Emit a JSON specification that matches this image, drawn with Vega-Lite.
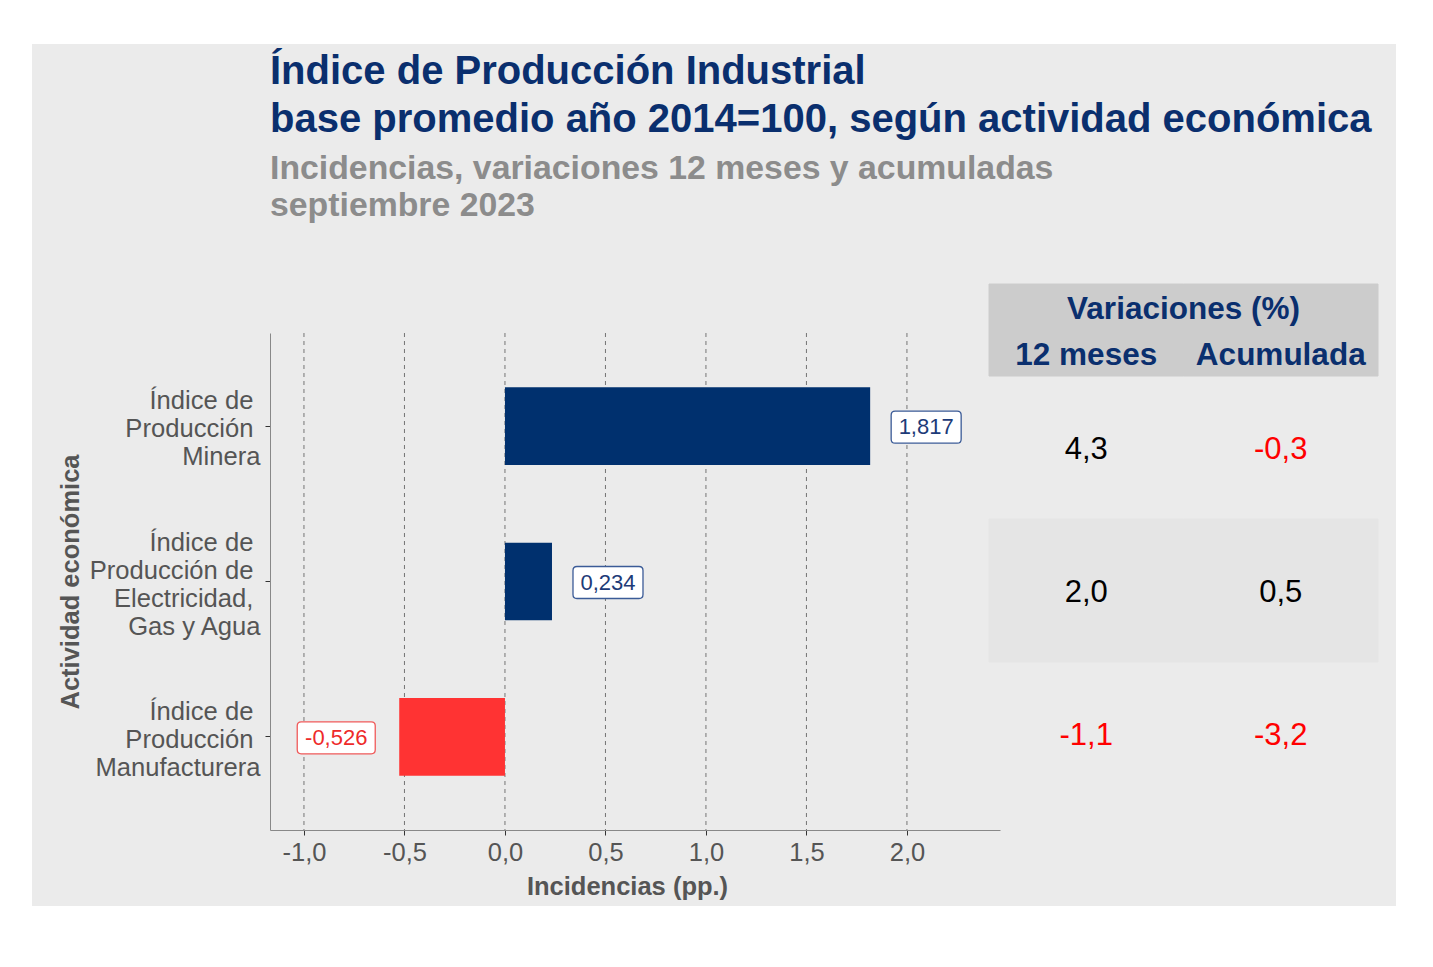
{
  "$schema": "https://vega.github.io/schema/vega-lite/v6.json",
  "width": 1364,
  "height": 862,
  "padding": {"left": 32, "top": 44, "right": 37, "bottom": 61},
  "background": "white",
  "view": {"fill": "#ebebeb", "stroke": null},
  "title": {
    "text": ["Índice de Producción Industrial", "base promedio año 2014=100, según actividad económica"],
    "subtitle": ["Incidencias, variaciones 12 meses y acumuladas", "septiembre 2023"],
    "anchor": "start",
    "frame": "group",
    "dx": 238,
    "offset": -179,
    "fontSize": 40,
    "fontWeight": "bold",
    "color": "#0a2f6e",
    "lineHeight": 48,
    "subtitleFontSize": 33.8,
    "subtitleFontWeight": "bold",
    "subtitleColor": "#8c8c8c",
    "subtitleLineHeight": 37,
    "subtitlePadding": 12
  },
  "config": {
    "font": "Liberation Sans",
    "locale": {"number": {"decimal": ",", "thousands": ".", "grouping": [3], "currency": ["", ""], "minus": "-"}}
  },
  "datasets": {
    "incidencias": [
      {"actividad": "Índice de Producción Minera", "incidencia": 1.817},
      {"actividad": "Índice de Producción de Electricidad, Gas y Agua", "incidencia": 0.234},
      {"actividad": "Índice de Producción Manufacturera", "incidencia": -0.526}
    ],
    "rejilla": [
      {"incidencia": -1}, {"incidencia": -0.5}, {"incidencia": 0}, {"incidencia": 0.5}, {"incidencia": 1}, {"incidencia": 1.5}, {"incidencia": 2}
    ],
    "encabezado": [
      {"fila": "titulo", "col": "12 meses"},
      {"fila": "titulo", "col": "Acumulada"},
      {"fila": "sub", "col": "12 meses"},
      {"fila": "sub", "col": "Acumulada"}
    ],
    "variaciones": [
      {"actividad": "Índice de Producción Minera", "col": "12 meses", "valor": 4.3},
      {"actividad": "Índice de Producción Minera", "col": "Acumulada", "valor": -0.3},
      {"actividad": "Índice de Producción de Electricidad, Gas y Agua", "col": "12 meses", "valor": 2.0},
      {"actividad": "Índice de Producción de Electricidad, Gas y Agua", "col": "Acumulada", "valor": 0.5},
      {"actividad": "Índice de Producción Manufacturera", "col": "12 meses", "valor": -1.1},
      {"actividad": "Índice de Producción Manufacturera", "col": "Acumulada", "valor": -3.2}
    ]
  },
  "layer": [
    {
      "encoding": {
        "x": {
          "field": "incidencia",
          "type": "quantitative",
          "scale": {"domain": [-1.169, 2.463], "range": [238, 968], "nice": false, "zero": false},
          "axis": {
            "title": "Incidencias (pp.)",
            "values": [-1, -0.5, 0, 0.5, 1, 1.5, 2],
            "format": ".1f",
            "grid": false,
            "offset": -76,
            "labelFontSize": 25.5,
            "labelColor": "#555555",
            "labelPadding": 5,
            "labelFlush": false,
            "tickSize": 5,
            "tickColor": "#333333",
            "domainColor": "#888888",
            "titleFontSize": 25.5,
            "titleFontWeight": "bold",
            "titleColor": "#555555",
            "titlePadding": 9,
            "titleX": 595
          }
        }
      },
      "layer": [
        {
          "data": {"name": "rejilla"},
          "mark": {"type": "rule", "strokeDash": [4, 4], "color": "#555555", "strokeWidth": 0.8},
          "encoding": {
            "y": {"datum": 0, "type": "quantitative", "scale": {"domain": [0, 1], "range": [289, 786], "nice": false}, "axis": null},
            "y2": {"datum": 1}
          }
        },
        {
          "data": {"name": "incidencias"},
          "encoding": {
            "y": {
              "field": "actividad",
              "type": "nominal",
              "sort": ["Índice de Producción Minera", "Índice de Producción de Electricidad, Gas y Agua", "Índice de Producción Manufacturera"],
              "scale": {"range": [289, 786], "paddingInner": 0.5, "paddingOuter": 0.35},
              "axis": {
                "title": "Actividad económica",
                "titleFontSize": 25.5,
                "titleFontWeight": "bold",
                "titleColor": "#555555",
                "titlePadding": 6,
                "labelFontSize": 25.6,
                "labelColor": "#555555",
                "labelLineHeight": 28,
                "labelPadding": 5,
                "labelOffset": {"condition": {"test": "datum.value == 'Índice de Producción de Electricidad, Gas y Agua'", "value": -39}, "value": -25},
                "labelExpr": "datum.value == 'Índice de Producción Minera' ? ['Índice de\u00a0\u200b', 'Producción\u00a0\u200b', 'Minera'] : datum.value == 'Índice de Producción Manufacturera' ? ['Índice de\u00a0\u200b', 'Producción\u00a0\u200b', 'Manufacturera'] : ['Índice de\u00a0\u200b', 'Producción de\u00a0\u200b', 'Electricidad,\u00a0\u200b', 'Gas y Agua']",
                "tickSize": 5,
                "tickColor": "#333333",
                "domainColor": "#888888",
                "offset": -238,
                "grid": false
              }
            }
          },
          "layer": [
            {
              "mark": {"type": "bar"},
              "encoding": {
                "x2": {"datum": 0},
                "color": {"condition": {"test": "datum.incidencia < 0", "value": "#ff3333"}, "value": "#00306e"}
              }
            },
            {
              "transform": [{"filter": "datum.incidencia >= 0"}],
              "mark": {
                "type": "point",
                "shape": "M-0.886,-0.457L0.886,-0.457Q1,-0.457,1,-0.343L1,0.343Q1,0.457,0.886,0.457L-0.886,0.457Q-1,0.457,-1,0.343L-1,-0.343Q-1,-0.457,-0.886,-0.457Z",
                "size": 4900,
                "filled": true,
                "fill": "white",
                "stroke": "#3b5b97",
                "strokeWidth": 1.3,
                "opacity": 1,
                "xOffset": 56,
                "yOffset": 1
              }
            },
            {
              "transform": [{"filter": "datum.incidencia >= 0"}],
              "mark": {"type": "text", "xOffset": 56, "yOffset": 1, "fontSize": 22, "color": "#1d3b78"},
              "encoding": {"text": {"field": "incidencia", "type": "quantitative", "format": ".3f"}}
            },
            {
              "transform": [{"filter": "datum.incidencia < 0"}],
              "mark": {
                "type": "point",
                "shape": "M-0.897,-0.41L0.897,-0.41Q1,-0.41,1,-0.307L1,0.307Q1,0.41,0.897,0.41L-0.897,0.41Q-1,0.41,-1,0.307L-1,-0.307Q-1,-0.41,-0.897,-0.41Z",
                "size": 6084,
                "filled": true,
                "fill": "white",
                "stroke": "#f05a5a",
                "strokeWidth": 1.3,
                "opacity": 1,
                "xOffset": -63,
                "yOffset": 1
              }
            },
            {
              "transform": [{"filter": "datum.incidencia < 0"}],
              "mark": {"type": "text", "xOffset": -63, "yOffset": 1, "fontSize": 22, "color": "#ee2a2a"},
              "encoding": {"text": {"field": "incidencia", "type": "quantitative", "format": ".3f"}}
            }
          ]
        }
      ],
      "resolve": {"scale": {"y": "independent"}}
    },
    {
      "data": {"name": "encabezado"},
      "encoding": {
        "x": {"field": "col", "type": "nominal", "scale": {"domain": ["12 meses", "Acumulada"], "range": [957, 1346], "paddingInner": 0, "paddingOuter": 0}, "axis": null},
        "y": {"field": "fila", "type": "nominal", "scale": {"domain": ["titulo", "sub"], "range": [240, 332], "paddingInner": 0, "paddingOuter": 0}, "axis": null}
      },
      "layer": [
        {"mark": {"type": "rect", "color": "#cccccc", "stroke": "#cccccc", "strokeWidth": 1}},
        {
          "transform": [{"filter": "datum.fila == 'sub'"}],
          "mark": {"type": "text", "fontSize": 31.5, "fontWeight": "bold", "color": "#0a2f6e", "dy": 3},
          "encoding": {"text": {"field": "col", "type": "nominal"}}
        },
        {
          "transform": [{"filter": "datum.fila == 'titulo' && datum.col == '12 meses'"}],
          "mark": {"type": "text", "fontSize": 31.5, "fontWeight": "bold", "color": "#0a2f6e", "dy": 3},
          "encoding": {
            "x": {"field": "col", "type": "nominal", "bandPosition": 1},
            "text": {"value": "Variaciones (%)"}
          }
        }
      ]
    },
    {
      "data": {"name": "variaciones"},
      "encoding": {
        "x": {"field": "col", "type": "nominal", "scale": {"domain": ["12 meses", "Acumulada"], "range": [957, 1346], "paddingInner": 0, "paddingOuter": 0}, "axis": null},
        "y": {"field": "actividad", "type": "nominal", "scale": {"domain": ["Índice de Producción Minera", "Índice de Producción de Electricidad, Gas y Agua", "Índice de Producción Manufacturera"], "range": [332, 761], "paddingInner": 0, "paddingOuter": 0}, "axis": null}
      },
      "layer": [
        {
          "transform": [{"filter": "datum.actividad == 'Índice de Producción de Electricidad, Gas y Agua'"}],
          "mark": {"type": "rect", "color": "#e5e5e5", "stroke": "#e5e5e5", "strokeWidth": 1}
        },
        {
          "mark": {"type": "text", "fontSize": 31, "dy": 2},
          "encoding": {
            "text": {"field": "valor", "type": "quantitative", "format": ".1f"},
            "color": {"condition": {"test": "datum.valor < 0", "value": "#ff0000"}, "value": "#000000"}
          }
        }
      ]
    }
  ],
  "resolve": {"scale": {"x": "independent", "y": "independent"}}
}
